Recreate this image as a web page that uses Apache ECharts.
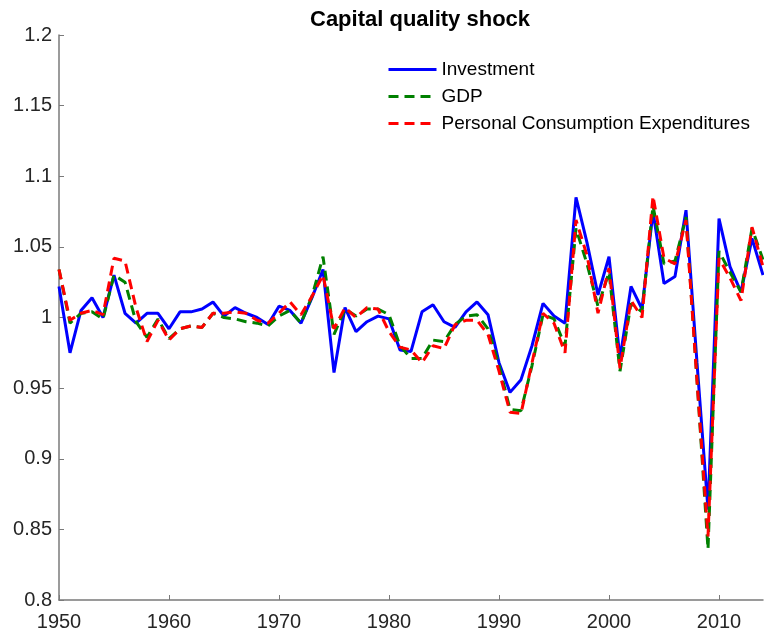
<!DOCTYPE html>
<html>
<head>
<meta charset="utf-8">
<script src="https://cdn.jsdelivr.net/npm/echarts@6/dist/echarts.min.js"></script>
<style>
html,body{margin:0;padding:0;background:#fff;}
#chart{width:764px;height:633px;}
</style>
</head>
<body>
<div id="chart"></div>
<script>
var years = [];
for (var y = 1950; y <= 2014; y++) years.push(y);

var investment = [
 1.022, 0.975, 1.005, 1.014, 1.000, 1.030, 1.003, 0.996, 1.003, 1.003,
 0.992, 1.004, 1.004, 1.006, 1.011, 1.001, 1.007, 1.003, 1.000, 0.995,
 1.008, 1.005, 0.996, 1.014, 1.034, 0.961, 1.007, 0.990, 0.997, 1.001,
 0.999, 0.977, 0.976, 1.004, 1.009, 0.997, 0.993, 1.004, 1.011, 1.002,
 0.968, 0.947, 0.956, 0.980, 1.010, 1.001, 0.996, 1.085, 1.053, 1.016,
 1.043, 0.971, 1.022, 1.006, 1.075, 1.024, 1.029, 1.076, 0.968, 0.864,
 1.070, 1.036, 1.018, 1.056, 1.030
];
var gdp = [
 1.034, 0.996, 1.003, 1.004, 0.999, 1.030, 1.025, 0.997, 0.986, 0.999,
 0.985, 0.992, 0.994, 0.993, 1.003, 1.000, 0.999, 0.997, 0.996, 0.994,
 1.001, 1.005, 0.996, 1.015, 1.043, 0.988, 1.006, 1.001, 1.006, 1.006,
 1.002, 0.980, 0.971, 0.971, 0.984, 0.983, 0.995, 1.001, 1.002, 0.992,
 0.966, 0.935, 0.934, 0.966, 1.002, 0.999, 0.980, 1.063, 1.038, 1.008,
 1.032, 0.962, 1.010, 1.004, 1.079, 1.038, 1.040, 1.071, 0.956, 0.836,
 1.047, 1.032, 1.018, 1.063, 1.041
];
var pce = [
 1.034, 0.998, 1.003, 1.005, 1.002, 1.042, 1.040, 1.007, 0.983, 0.998,
 0.984, 0.992, 0.994, 0.993, 1.003, 1.003, 1.004, 1.003, 0.998, 0.996,
 1.003, 1.011, 1.002, 1.015, 1.030, 0.992, 1.007, 1.000, 1.007, 1.006,
 0.990, 0.979, 0.977, 0.968, 0.980, 0.978, 0.995, 0.998, 0.998, 0.988,
 0.962, 0.933, 0.932, 0.968, 1.003, 0.996, 0.975, 1.069, 1.044, 1.003,
 1.035, 0.964, 1.012, 1.000, 1.086, 1.042, 1.038, 1.069, 0.955, 0.845,
 1.042, 1.028, 1.012, 1.064, 1.036
];
var seriesNames = ['Investment', 'GDP', 'Personal Consumption Expenditures'];
var xTicks = [1950, 1960, 1970, 1980, 1990, 2000, 2010];
var yTicks = [0.8, 0.85, 0.9, 0.95, 1, 1.05, 1.1, 1.15, 1.2];

function pairs(vals) {
  return years.map(function (yr, i) { return [yr, vals[i]]; });
}

var font = '"Liberation Sans", Arial, sans-serif';
var chart = echarts.init(document.getElementById('chart'), null, {renderer: 'canvas'});
chart.setOption({
  animation: false,
  backgroundColor: '#ffffff',
  title: {
    text: 'Capital quality shock',
    left: 305, top: 4,
    textStyle: {fontFamily: font, fontSize: 22, fontWeight: 'bold', color: '#000'}
  },
  legend: {
    orient: 'vertical',
    left: 382, top: 54,
    itemWidth: 48, itemHeight: 14, itemGap: 6,
    itemStyle: {opacity: 0},
    lineStyle: {width: 3},
    textStyle: {fontFamily: font, fontSize: 19, color: '#000', lineHeight: 21},
    data: seriesNames
  },
  grid: {left: 59, right: 1, top: 35, bottom: 33, containLabel: false},
  xAxis: {
    type: 'value', min: 1950, max: 2014, interval: 10,
    axisLine: {show: true, lineStyle: {color: '#7a7a7a', width: 1.5}},
    axisTick: {show: true, inside: true, length: 5, lineStyle: {color: '#7a7a7a'}},
    splitLine: {show: false},
    axisLabel: {
      fontFamily: font, fontSize: 20, color: '#262626', margin: 12,
      showMaxLabel: false,
      formatter: function (v) { return xTicks.indexOf(v) >= 0 ? String(v) : ''; }
    }
  },
  yAxis: {
    type: 'value', min: 0.8, max: 1.2, interval: 0.05,
    axisLine: {show: true, lineStyle: {color: '#7a7a7a', width: 1.5}},
    axisTick: {show: true, inside: true, length: 5, lineStyle: {color: '#7a7a7a'}},
    splitLine: {show: false},
    axisLabel: {
      fontFamily: font, fontSize: 20, color: '#262626', margin: 7,
      formatter: function (v) { return String(+v.toFixed(2)); }
    }
  },
  series: [
    {name: seriesNames[0], type: 'line', data: pairs(investment), symbol: 'none',
     lineStyle: {color: '#0000ff', width: 3}, itemStyle: {color: '#0000ff'}, z: 2},
    {name: seriesNames[1], type: 'line', data: pairs(gdp), symbol: 'none',
     lineStyle: {color: '#008000', width: 3, type: [10, 6]}, itemStyle: {color: '#008000'}, z: 3},
    {name: seriesNames[2], type: 'line', data: pairs(pce), symbol: 'none',
     lineStyle: {color: '#ff0000', width: 3, type: [10, 6]}, itemStyle: {color: '#ff0000'}, z: 4}
  ]
});
</script>
</body>
</html>
